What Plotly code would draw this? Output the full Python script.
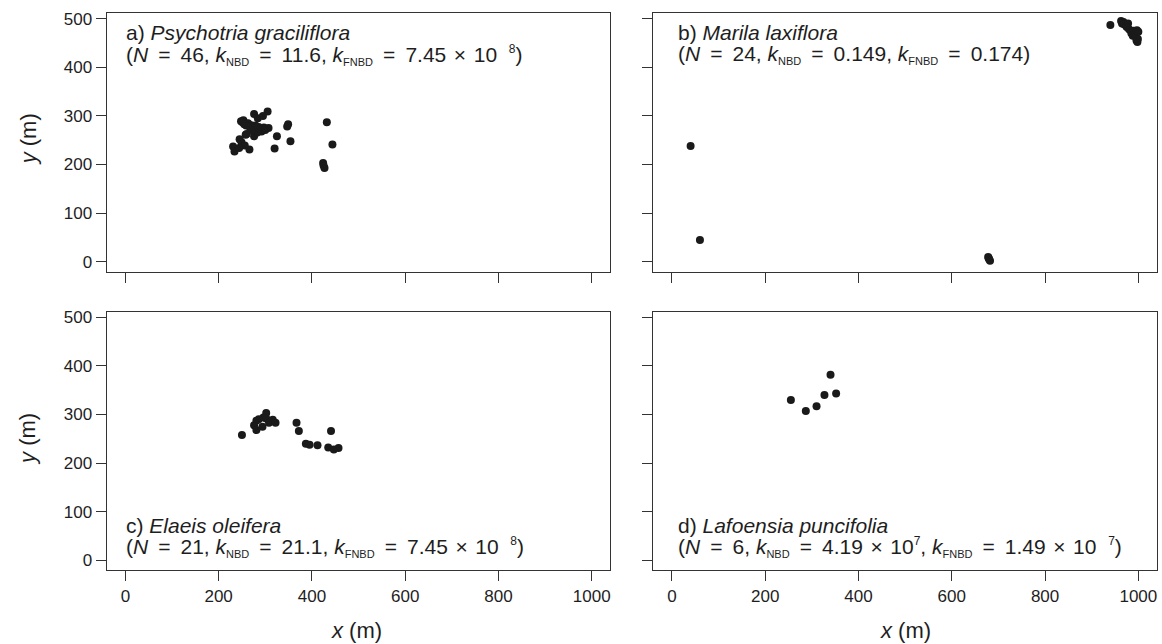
import plotly.graph_objects as go

# ---- data ----
a_x = [305, 276, 284, 251, 259, 266, 277, 292, 307, 347, 349, 258, 276, 325, 245, 249, 256, 266, 320, 354, 231, 234, 432, 444, 424, 427,
       253, 262, 270, 281, 288, 297, 263, 272, 286, 300, 248, 255, 268, 279, 283, 295, 260, 270, 425, 244]
a_y = [309, 304, 295, 287, 280, 278, 274, 268, 275, 278, 283, 261, 258, 258, 252, 246, 239, 231, 233, 248, 237, 227, 287, 241, 203, 193,
       291, 284, 281, 272, 270, 276, 285, 279, 277, 271, 289, 283, 276, 280, 266, 300, 263, 270, 198, 234]
b_x = [40, 60, 678, 680, 682, 679, 940, 963, 965, 968, 970, 978, 980, 985, 988, 990, 993, 995, 996, 998, 999, 997, 975, 1000]
b_y = [238, 45, 10, 5, 2, 8, 487, 495, 490, 493, 488, 490, 478, 470, 465, 475, 468, 462, 455, 452, 458, 476, 483, 473]
c_x = [250, 281, 276, 281, 294, 302, 302, 308, 316, 322, 367, 372, 387, 395, 412, 441, 435, 447, 457, 296, 286]
c_y = [258, 287, 278, 268, 275, 303, 292, 283, 289, 283, 283, 266, 240, 238, 237, 266, 232, 228, 231, 294, 290]
d_x = [255, 287, 310, 327, 340, 352]
d_y = [330, 307, 317, 340, 382, 343]

x_ticks = [0, 200, 400, 600, 800, 1000]
y_ticks = [0, 100, 200, 300, 400, 500]

EQ = " \u2009=\u2009 "
TIMES = " \u200a×\u200a "


def sub(s):
    return "<sub><span style='font-size:11px'>" + s + "</span></sub>"


def sup(s):
    return "<sup><span style='font-size:12px'>" + s + "</span></sup>"


line1 = ["a) <i>Psychotria graciliflora</i>", "b) <i>Marila laxiflora</i>",
         "c) <i>Elaeis oleifera</i>", "d) <i>Lafoensia puncifolia</i>"]
line2 = [
    "(<i>N</i>" + EQ + "46, <i>k</i>" + sub("NBD") + EQ + "11.6, <i>k</i>" + sub("FNBD") + EQ + "7.45" + TIMES + "10  " + sup("8") + ")",
    "(<i>N</i>" + EQ + "24, <i>k</i>" + sub("NBD") + EQ + "0.149, <i>k</i>" + sub("FNBD") + EQ + "0.174)",
    "(<i>N</i>" + EQ + "21, <i>k</i>" + sub("NBD") + EQ + "21.1, <i>k</i>" + sub("FNBD") + EQ + "7.45" + TIMES + "10  " + sup("8") + ")",
    "(<i>N</i>" + EQ + "6, <i>k</i>" + sub("NBD") + EQ + "4.19" + TIMES + "10" + sup("7") + ", <i>k</i>" + sub("FNBD") + EQ + "1.49" + TIMES + "10  " + sup("7") + ")",
]

W, H = 1162, 644
FONT = "Liberation Sans, Arial, Helvetica, sans-serif"
INK = "#1e1e1e"

# panel pixel boxes (left, right, top, bottom)
boxes = [(106.7, 610.4, 10, 270), (653.3, 1157, 10, 270),
         (106.7, 610.4, 310, 570), (653.3, 1157, 310, 570)]
data = [(a_x, a_y), (b_x, b_y), (c_x, c_y), (d_x, d_y)]

fig = go.Figure()
layout = dict(width=W, height=H, margin=dict(l=0, r=0, t=0, b=0),
              plot_bgcolor="white", paper_bgcolor="white", showlegend=False,
              font=dict(family=FONT, color=INK))
annotations = []
for i, ((l, r, t, b), (xs, ys)) in enumerate(zip(boxes, data)):
    n = "" if i == 0 else str(i + 1)
    xa, ya = "x" + n, "y" + n
    fig.add_trace(go.Scatter(x=xs, y=ys, mode="markers", xaxis=xa, yaxis=ya,
                             marker=dict(size=8, color="#1a1a1a", line=dict(width=0)),
                             hoverinfo="skip"))
    common = dict(showgrid=False, zeroline=False, showline=True, mirror=True,
                  linecolor="#333333", linewidth=1.2, ticks="outside", ticklen=10,
                  tickwidth=1.2, tickcolor="#333333", ticklabeloverflow="allow",
                  tickfont=dict(family=FONT, size=17, color=INK))
    layout["xaxis" + n] = dict(common, domain=[l / W, r / W], range=[-40, 1040],
                               tickvals=x_ticks, showticklabels=(i >= 2),
                               anchor=ya)
    layout["yaxis" + n] = dict(common, domain=[1 - b / H, 1 - t / H], range=[-20.5, 511.7],
                               tickvals=y_ticks, showticklabels=(i % 2 == 0),
                               anchor=xa)
    x0 = 124 if i % 2 == 0 else 676
    if i < 2:
        yl1, yl2 = 30, 52
    else:
        yl1, yl2 = 525, 547
    for txt, yc in ((line1[i], yl1), (line2[i], yl2)):
        annotations.append(dict(text=txt, xref="paper", yref="paper",
                                x=x0 / W, y=1 - yc / H,
                                xanchor="left", yanchor="middle", showarrow=False,
                                font=dict(family=FONT, size=21, color=INK)))

# axis titles
for yc in (137, 438):
    annotations.append(dict(text="<i>y</i> (m)", xref="paper", yref="paper",
                            x=28 / W, y=1 - yc / H, textangle=-90, showarrow=False,
                            xanchor="center", yanchor="middle",
                            font=dict(family=FONT, size=22, color=INK)))
for xc in (356, 905):
    annotations.append(dict(text="<i>x</i> (m)", xref="paper", yref="paper",
                            x=xc / W, y=1 - 630 / H, showarrow=False,
                            xanchor="center", yanchor="middle",
                            font=dict(family=FONT, size=22, color=INK)))

layout["annotations"] = annotations
fig.update_layout(**layout)
fig.write_html("out.html", config={"displayModeBar": False},
               post_script="document.body.style.margin='0';document.body.style.overflow='hidden';")
